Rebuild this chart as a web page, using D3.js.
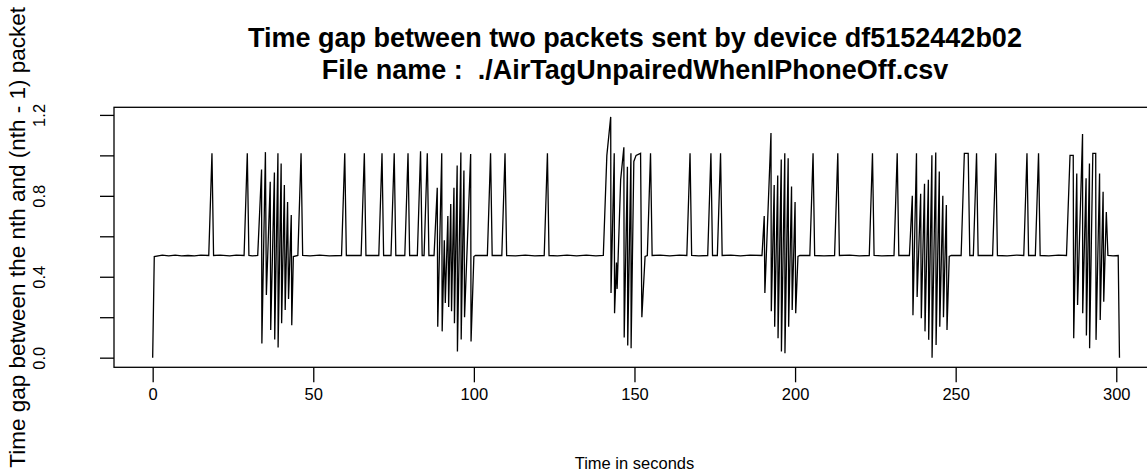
<!DOCTYPE html>
<html>
<head>
<meta charset="utf-8">
<script src="https://cdn.jsdelivr.net/npm/d3@7"></script>
<style>
  body { margin: 0; background: #fff; }
  svg text { font-family: "Liberation Sans", Arial, Helvetica, sans-serif; fill: #000; }
</style>
</head>
<body>
<div id="chart"></div>
<script>
const titleLines = [
  "Time gap between two packets sent by device df5152442b02",
  "File name :  ./AirTagUnpairedWhenIPhoneOff.csv",
];
const xLabel = "Time in seconds";
const yLabel = "Time gap between the nth and (nth - 1) packet";

const xTicks = [0, 50, 100, 150, 200, 250, 300];
const yTicks = [0, 0.2, 0.4, 0.6, 0.8, 1.0, 1.2];
const yTickLabels = ["0.0", "", "0.4", "", "0.8", "", "1.2"];

// packet time (s) and gap to previous packet (s), vertices
const times = [
  0, 0.5, 3, 5, 7, 9, 11, 13, 15, 17.46, 18.46, 18.96, 21, 24, 26, 28.46, 29.46, 29.96, 31, 32.7,
  33.9, 34.0, 35.1, 35.4, 36.6, 36.75, 37.9, 38.0, 39.0, 39.05, 40.0, 40.15, 41.0, 41.25, 42.0, 42.3, 43.15, 43.3, 43.8,
  45.2, 46.2, 46.7, 49, 52, 55, 58.8, 59.8, 60.3, 64.9, 65.9, 66.4, 70.4, 71.4, 71.9, 74.2, 75.2, 75.7,
  78.5, 79.5, 80.0, 82.4, 83.4, 83.9, 84.5, 85.5, 86.0, 87.6,
  88.6, 88.75, 90.0, 90.13, 90.8, 91.1, 91.9, 92.15, 92.8, 93.05, 93.8, 93.95, 94.8, 94.88, 95.95, 96.05,
  96.9, 97.1, 99.0, 99.12, 100.0, 100.5,
  104.2, 105.2, 105.7, 108.7, 109.7, 110.2, 113, 116, 119, 121.9, 122.9, 123.4, 126, 129, 132, 135, 138, 140.3,
  141.4, 142.6, 142.7, 143.7, 143.8, 144.4, 144.6, 145.7, 146.7, 146.8, 147.8, 147.9, 148.9, 148.95,
  149.8, 150.5, 151.9, 152.3, 153.3,
  154.0, 155.0, 155.5, 158, 161, 164, 166.3, 167.3, 167.8, 170, 172.8, 173.8, 174.3, 175.8, 176.8, 177.3,
  180, 183, 186, 189.7,
  190.4, 190.6, 192.5, 192.6, 193.5, 193.65, 194.6, 194.7, 195.7, 195.75, 196.8, 196.85, 197.85, 198.0,
  198.9, 199.1, 200.0, 200.2, 200.9, 201.5,
  204.6, 205.6, 206.1, 209, 212.3, 213.3, 213.8, 217, 220, 223.1, 224.1, 224.6, 227, 230.8, 231.8, 232.3, 235.6,
  236.5, 236.7, 237.8, 238.0, 239.1, 239.3, 240.3, 240.45, 241.5, 241.6, 242.6, 242.65, 243.8, 243.9,
  244.9, 245.05, 246.0, 246.2, 247.1, 247.3, 248.0, 248.6,
  251.7, 252.7, 253.9, 254.4, 255.5, 256.5, 257.0, 261.5, 262.5, 263.0, 266, 269, 271.2, 272.2, 272.7,
  274.8, 275.8, 276.3, 279, 282, 284.5,
  285.6, 286.6, 286.75, 287.7, 287.95, 289.5, 289.55, 290.6, 290.7, 291.65, 291.7, 292.7, 293.6, 293.7,
  294.8, 295.0, 295.9, 296.1, 296.9, 297.4, 299, 300.6, 301.0,
];
const gaps = [
  0, 0.5, 0.507, 0.503, 0.507, 0.503, 0.505, 0.503, 0.507, 0.505, 1.01, 0.505, 0.507, 0.503, 0.507, 0.505, 1.01, 0.505, 0.503, 0.505,
  0.93, 0.07, 1.016, 0.31, 0.87, 0.137, 0.915, 0.09, 1.01, 0.05, 0.96, 0.17, 0.854, 0.236, 0.77, 0.29, 0.705, 0.16, 0.5,
  0.505, 1.01, 0.505, 0.503, 0.507, 0.503, 0.505, 1.01, 0.505, 0.505, 1.01, 0.505, 0.505, 1.01, 0.505, 0.505, 1.01, 0.505,
  0.505, 1.01, 0.505, 0.505, 1.02, 0.505, 0.505, 1.01, 0.505, 0.505,
  0.84, 0.153, 1.01, 0.13, 0.58, 0.27, 0.70, 0.25, 0.76, 0.23, 0.84, 0.17, 0.95, 0.03, 1.014, 0.09,
  0.925, 0.20, 1.007, 0.08, 0.5, 0.505,
  0.505, 1.01, 0.505, 0.505, 1.01, 0.505, 0.503, 0.507, 0.503, 0.505, 1.01, 0.505, 0.503, 0.507, 0.503, 0.507, 0.503, 0.505,
  1.0, 1.19, 0.32, 1.01, 0.22, 0.47, 0.34, 0.88, 1.04, 0.10, 0.944, 0.06, 1.01, 0.046,
  0.97, 1.0, 1.01, 0.2, 0.5,
  0.505, 1.01, 0.505, 0.507, 0.503, 0.507, 0.505, 1.01, 0.505, 0.503, 0.505, 1.01, 0.505, 0.505, 1.01, 0.505,
  0.507, 0.503, 0.507, 0.505,
  0.70, 0.32, 1.11, 0.23, 0.854, 0.153, 0.90, 0.096, 0.98, 0.03, 1.01, 0.022, 0.986, 0.153,
  0.846, 0.236, 0.77, 0.22, 0.5, 0.505,
  0.505, 1.01, 0.505, 0.503, 0.505, 1.01, 0.505, 0.507, 0.503, 0.505, 1.01, 0.505, 0.503, 0.505, 1.01, 0.505, 0.505,
  0.80, 0.21, 1.01, 0.30, 0.81, 0.195, 0.86, 0.13, 0.88, 0.088, 1.0, 0.0, 1.014, 0.063,
  0.92, 0.153, 0.80, 0.20, 0.755, 0.137, 0.5, 0.505,
  0.505, 1.01, 1.01, 0.505, 0.505, 1.01, 0.505, 0.505, 1.01, 0.505, 0.503, 0.507, 0.505, 1.01, 0.505,
  0.505, 1.01, 0.505, 0.503, 0.507, 0.505,
  1.0, 1.0, 0.096, 0.91, 0.26, 1.106, 0.22, 0.887, 0.11, 0.96, 0.046, 1.01, 1.01, 0.088,
  0.91, 0.186, 0.82, 0.277, 0.72, 0.505, 0.503, 0.505, 0.0,
];

const width = 1147;
const height = 475;
const plot = { left: 114, top: 107.3, bottom: 367.3 };

const data = times.map((t, i) => ({ t: t, gap: gaps[i] }));

// R style 4% padding on both axes
function padded(extent) {
  const d = (extent[1] - extent[0]) * 0.04;
  return [extent[0] - d, extent[1] + d];
}
const xDomain = padded(d3.extent(data, (d) => d.t));
const yDomain = padded(d3.extent(data, (d) => d.gap));

const pxPerSecond = 3.212;
const plotRight = plot.left + (xDomain[1] - xDomain[0]) * pxPerSecond;

const xScale = d3.scaleLinear().domain(xDomain).range([plot.left, plotRight]);
const yScale = d3.scaleLinear().domain(yDomain).range([plot.bottom, plot.top]);

const svg = d3
  .select("#chart")
  .append("svg")
  .attr("width", width)
  .attr("height", height);

// title
svg
  .append("g")
  .selectAll("text")
  .data(titleLines)
  .enter()
  .append("text")
  .attr("x", 635)
  .attr("y", (d, i) => 47 + i * 32)
  .attr("text-anchor", "middle")
  .style("font-size", "27px")
  .style("font-weight", "bold")
  .style("white-space", "pre")
  .text((d) => d);

// x axis
const xAxis = svg
  .append("g")
  .attr("transform", `translate(0,${plot.bottom})`)
  .call(d3.axisBottom(xScale).tickValues(xTicks).tickSize(15).tickPadding(10).tickFormat(d3.format("d")));
xAxis.select(".domain").remove();
xAxis.selectAll("line").attr("stroke", "#000").attr("stroke-width", 1.3);
xAxis
  .selectAll("text")
  .attr("fill", "#000")
  .style("font-size", "16.5px")
  .attr("dy", null)
  .attr("y", 33);

// y axis, labels parallel to the axis
const yAxis = svg
  .append("g")
  .attr("transform", `translate(${plot.left},0)`)
  .call(d3.axisLeft(yScale).tickValues(yTicks).tickSize(14).tickFormat((d, i) => yTickLabels[i]));
yAxis.select(".domain").remove();
yAxis.selectAll("line").attr("stroke", "#000").attr("stroke-width", 1.3);
yAxis
  .selectAll("text")
  .attr("fill", "#000")
  .style("font-size", "16.5px")
  .attr("text-anchor", "middle")
  .attr("x", null)
  .attr("dy", null)
  .attr("transform", "translate(-69,0) rotate(-90)");

// axis titles
svg
  .append("text")
  .attr("x", 634.5)
  .attr("y", 469)
  .attr("text-anchor", "middle")
  .style("font-size", "16.5px")
  .text(xLabel);

svg
  .append("text")
  .attr("transform", `translate(25,${(plot.top + plot.bottom) / 2}) rotate(-90)`)
  .attr("text-anchor", "middle")
  .style("font-size", "22.5px")
  .text(yLabel);

// the series
const line = d3
  .line()
  .x((d) => xScale(d.t))
  .y((d) => yScale(d.gap));

svg
  .append("path")
  .datum(data)
  .attr("d", line)
  .attr("fill", "none")
  .attr("stroke", "#000")
  .attr("stroke-width", 1.3)
  .attr("stroke-linejoin", "miter")
  .attr("stroke-miterlimit", 4);

// frame
svg
  .append("rect")
  .attr("x", plot.left)
  .attr("y", plot.top)
  .attr("width", plotRight - plot.left)
  .attr("height", plot.bottom - plot.top)
  .attr("fill", "none")
  .attr("stroke", "#000")
  .attr("stroke-width", 1.3);
</script>
</body>
</html>
